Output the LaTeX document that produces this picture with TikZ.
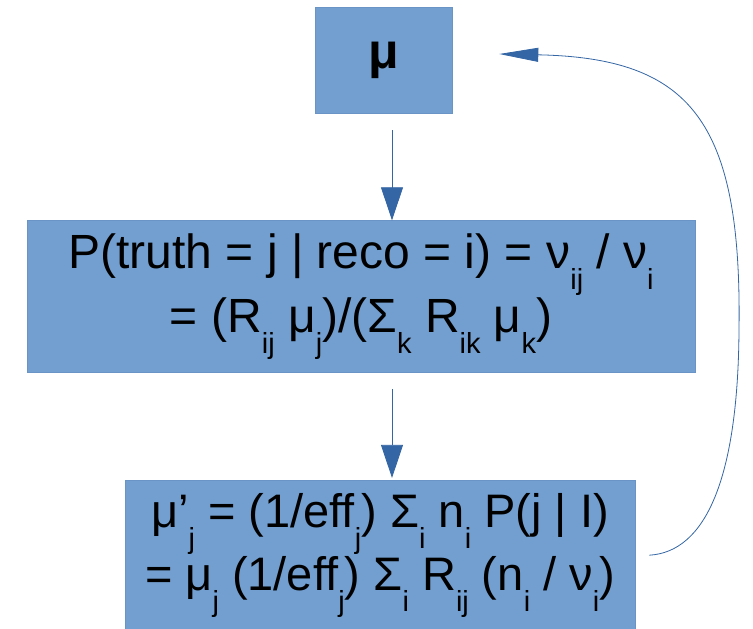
\documentclass[tikz,border=0pt]{standalone}
\usepackage{fontspec}
\setmainfont{Liberation Sans}
\usepackage{tikz}
\usetikzlibrary{arrows.meta,positioning}
\definecolor{BoxFill}{HTML}{729FCF}
\definecolor{BoxEdge}{HTML}{6A94C6}
\definecolor{ArrowBlue}{HTML}{3465A4}
\newcommand{\lo}[1]{\raisebox{-21pt}{\fontsize{29}{29}\selectfont #1}}

\begin{document}
\begin{tikzpicture}[x=1pt,y=-1pt,
  box/.style={draw=BoxEdge,line width=0.6pt,fill=BoxFill,inner sep=0pt,align=center,font=\fontsize{47}{63}\selectfont},
  edge/.style={-{Triangle[length=33pt,width=22pt]},draw=ArrowBlue,line width=0.8pt},
  back/.style={-{Triangle[length=39pt,width=14pt]},draw=ArrowBlue,line width=0.8pt}
]
\useasboundingbox (0,0) rectangle (753,629);
\node[box,minimum width=137pt,minimum height=106pt,font=\fontsize{50}{60}\selectfont\bfseries] (mu) at (383.5,60) {μ};
\node[box,minimum width=668pt,minimum height=152pt,below=107pt of mu,xshift=-22.5pt,font=\fontsize{48}{64}\selectfont] (post) {P(truth = j | reco = i) = ν\lo{ij} / ν\lo{i}\\= (R\lo{ij} μ\lo{j})/(Σ\lo{k} R\lo{ik} μ\lo{k})};
\node[box,minimum width=510pt,minimum height=150pt,below=107pt of post,xshift=19pt] (update) {\raisebox{-6pt}{μ’\lo{j} = (1/eff\lo{j}) Σ\lo{i} n\lo{i} P(j | I)}\\\raisebox{-6pt}{= μ\lo{j} (1/eff\lo{j}) Σ\lo{i} R\lo{ij} (n\lo{i} / ν\lo{i})}};
\draw[edge,shorten <=17pt] ([xshift=8.5pt]mu.south) -- ([xshift=8.5pt]mu.south |- post.north);
\draw[edge,shorten <=16pt,shorten >=2pt] ([xshift=31pt]post.south) -- ([xshift=31pt]post.south |- update.north);
\draw[back] ([xshift=14pt]update.east) .. controls (705,552) and (738,480) .. (739,330)
  .. controls (742,120) and (690,58) .. ([xshift=47pt,yshift=6pt]mu.east);
\end{tikzpicture}
\end{document}
